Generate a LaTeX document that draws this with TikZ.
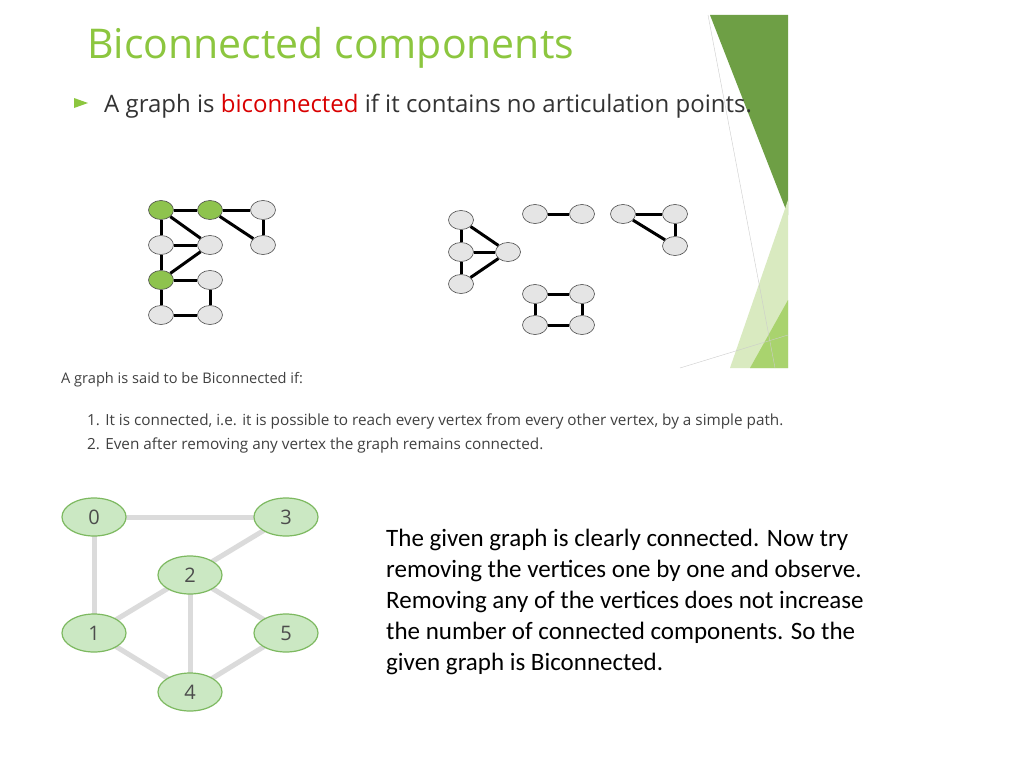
\documentclass[tikz,border=0pt]{standalone}
\usepackage{fontspec}
\setmainfont{Carlito}
\newfontfamily\osans{Open Sans}
\usetikzlibrary{shapes.geometric}
\definecolor{tgreen}{HTML}{8CC63F}
\definecolor{dgreen}{HTML}{6E9F45}
\definecolor{lgreen}{HTML}{D9EAC0}
\definecolor{mgreen}{HTML}{A9D36E}
\definecolor{vgreen}{HTML}{8EC34E}
\definecolor{bfill}{HTML}{CBE8C3}
\definecolor{bdraw}{HTML}{7DB960}
\begin{document}
\begin{tikzpicture}[x=1pt,y=-1pt,
  gv/.style={ellipse,draw=black!70,fill=black!10,minimum width=25,minimum height=19,inner sep=0,line width=0.6},
  gg/.style={gv,fill=vgreen},
  be/.style={line width=3},
  bv/.style={ellipse,draw=bdraw,fill=bfill,line width=1.2,minimum width=64,minimum height=38,inner sep=0,font=\osans\fontsize{20}{20}\selectfont,text=black!70},
  ge/.style={line width=5,draw=black!14}]
\useasboundingbox (0,0) rectangle (1024,768);
\fill[white] (0,0) rectangle (1024,768);
% decoration
\fill[dgreen] (710,15) -- (788,15) -- (788,215) -- cycle;
\fill[lgreen] (788,200) -- (788,368) -- (730,368) -- cycle;
\fill[mgreen] (788,300) -- (788,368) -- (750,368) -- cycle;
\draw[black!20] (708,15) -- (775,368);
\draw[black!20] (680,368) -- (788,335);
% title
\node[anchor=west,font=\osans\fontsize{41}{41}\selectfont,text=tgreen,inner sep=0] (title) at (87,48) {Biconnected components};
\fill[tgreen] (74,98) -- (88,103) -- (74,108) -- cycle;
\node[anchor=west,font=\osans\fontsize{24}{24}\selectfont,text=black!80,inner sep=0] (bul) at (104,106) {A graph is \textcolor{red!85!black}{biconnected} if it contains no articulation points.};
% left graph
\node[gg] (a) at (161,210) {}; \node[gg] (b) at (210,210) {}; \node[gv] (c) at (263,210) {};
\node[gv] (d) at (161,245) {}; \node[gv] (e) at (210,245) {}; \node[gv] (f) at (263,245) {};
\node[gg] (g) at (161,280) {}; \node[gv] (h) at (210,280) {};
\node[gv] (i) at (161,315) {}; \node[gv] (j) at (210,315) {};
\foreach \u/\v in {a/b,b/c,c/f,b/f,a/d,a/e,d/e,d/g,e/g,g/h,h/j,g/i,i/j}
  \draw[be] (\u) -- (\v);
% right components
\node[gv] (p1) at (461,220) {}; \node[gv] (p2) at (461,252) {}; \node[gv] (p3) at (508,252) {}; \node[gv] (p4) at (461,284) {};
\node[gv] (q1) at (535,214) {}; \node[gv] (q2) at (582,214) {};
\node[gv] (r1) at (623,214) {}; \node[gv] (r2) at (675,214) {}; \node[gv] (r3) at (675,246) {};
\node[gv] (s1) at (535,294) {}; \node[gv] (s2) at (582,294) {}; \node[gv] (s3) at (535,325) {}; \node[gv] (s4) at (582,325) {};
\foreach \u/\v in {p1/p2,p2/p4,p1/p3,p2/p3,p4/p3,q1/q2,r1/r2,r2/r3,r1/r3,s1/s2,s2/s4,s1/s3,s3/s4}
  \draw[be] (\u) -- (\v);
% screenshot text
\begin{scope}[text=black!75,inner sep=0]
\node[anchor=west,font=\osans\fontsize{14.6}{14.6}\selectfont] (t0) at (61,380) {A graph is said to be Biconnected if:};
\node[anchor=west,font=\osans\fontsize{15.3}{15.3}\selectfont] (t1) at (87,421) {1. It is connected, i.e. it is possible to reach every vertex from every other vertex, by a simple path.};
\node[anchor=west,font=\osans\fontsize{15.3}{15.3}\selectfont] (t2) at (87,445) {2. Even after removing any vertex the graph remains connected.};
\end{scope}
% bottom graph
\coordinate (n0) at (94,517); \coordinate (n3) at (286,517); \coordinate (n2) at (190,575);
\coordinate (n1) at (94,633); \coordinate (n5) at (286,633); \coordinate (n4) at (190,692);
\foreach \u/\v in {0/3,0/1,3/2,2/1,2/5,2/4,1/4,5/4}
  \draw[ge] (n\u) -- (n\v);
\foreach \k in {0,1,2,3,4,5}
  \node[bv] (m\k) at (n\k) {\k};
% paragraph
\node[anchor=north west,align=left,inner sep=0,font=\fontsize{25}{31}\selectfont,text=black] (para) at (386,529)
{The given graph is clearly connected. Now try\\removing the vertices one by one and observe.\\Removing any of the vertices does not increase\\the number of connected components. So the\\given graph is Biconnected.};
\end{tikzpicture}
\end{document}
